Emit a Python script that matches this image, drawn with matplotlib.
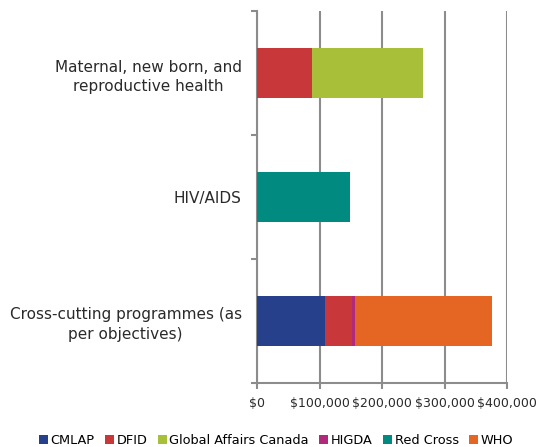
import numpy as np
import matplotlib.pyplot as plt
from matplotlib.ticker import FuncFormatter

categories = ['Cross-cutting programmes (as\nper objectives)', 'HIV/AIDS',
              'Maternal, new born, and\nreproductive health']
donors = ['CMLAP', 'DFID', 'Global Affairs Canada', 'HIGDA', 'Red Cross', 'WHO']
colors = ['#27408B', '#C8373A', '#A8BF3A', '#B0297A', '#008A80', '#E46622']

# values per donor, same order as categories
cmlap = [108000, 0, 0]
dfid = [44000, 0, 88000]
gac = [0, 0, 177600]
higda = [5000, 0, 0]
red_cross = [0, 148800, 0]
who = [218700, 0, 0]
series = [cmlap, dfid, gac, higda, red_cross, who]

plt.rcParams['font.family'] = ['DejaVu Sans']
fig = plt.figure(figsize=(5.36, 4.47), dpi=100)
ax = fig.add_axes([257/536, 1 - 383/447, 250/536, 372/447])

y = np.arange(len(categories))
left = np.zeros(len(categories))
for name, vals, c in zip(donors, series, colors):
    ax.barh(y, vals, left=left, height=0.4, color=c, label=name, zorder=3)
    left += np.array(vals)

ax.set_xlim(0, 400000)
ax.set_ylim(-0.5, 2.5)
ax.set_xticks(np.arange(0, 400001, 100000))
ax.xaxis.set_major_formatter(FuncFormatter(lambda v, p: '${:,.0f}'.format(v)))
ax.grid(axis='x', color='#8c8c8c', linewidth=1.5, zorder=0)

ax.set_yticks(y)
ax.set_yticklabels(categories, ha='right', multialignment='center', fontsize=11,
                   color='#2a2a2a', linespacing=1.35)
ax.tick_params(axis='y', which='major', length=0, pad=11)
ax.set_yticks(np.arange(-0.5, 3, 1), minor=True)
ax.tick_params(axis='y', which='minor', length=4, width=1.5, color='#8c8c8c')
ax.tick_params(axis='x', length=4, width=1.5, color='#8c8c8c', labelsize=9,
               labelcolor='#2a2a2a', pad=6)

for s in ['top', 'right']:
    ax.spines[s].set_visible(False)
for s in ['left', 'bottom']:
    ax.spines[s].set_color('#8c8c8c')
    ax.spines[s].set_linewidth(1.5)

fig.legend(loc='lower center', bbox_to_anchor=(0.515, -0.025), ncol=6, frameon=False,
           fontsize=9.3, handlelength=0.7, handleheight=0.7, handletextpad=0.2,
           columnspacing=0.8)

plt.savefig('out.png')
